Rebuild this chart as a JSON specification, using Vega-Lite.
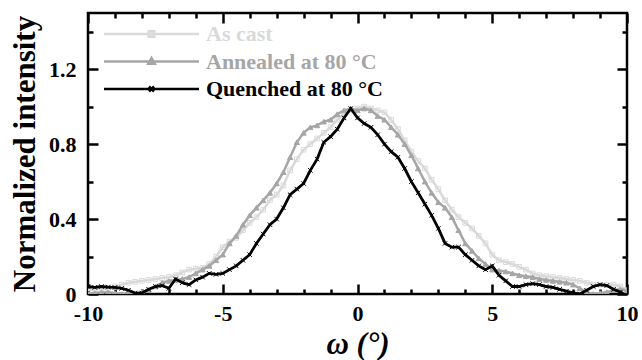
{
  "$schema": "https://vega.github.io/schema/vega-lite/v6.json",
  "width": 539,
  "height": 281,
  "autosize": {"type": "none"},
  "padding": {"left": 88, "top": 13, "right": 15, "bottom": 66},
  "background": "white",
  "config": {
    "view": {"stroke": "black", "strokeWidth": 2.5},
    "font": "Liberation Serif",
    "axis": {
      "domain": false, "grid": false, "tickColor": "black", "tickWidth": 2.5,
      "labelFont": "Liberation Serif", "labelFontWeight": "bold", "labelFontSize": 22, "labelColor": "black",
      "titleFont": "Liberation Serif", "titleFontWeight": "bold", "titleFontSize": 31, "titleColor": "black",
      "labelOverlap": false, "labelFlush": false
    }
  },
  "datasets": {
    "d": [
      {"s":"As cast","x":-10,"y":0.02},{"s":"As cast","x":-9.75,"y":0.025},{"s":"As cast","x":-9.5,"y":0.03},{"s":"As cast","x":-9.25,"y":0.03},{"s":"As cast","x":-9,"y":0.04},{"s":"As cast","x":-8.75,"y":0.05},{"s":"As cast","x":-8.5,"y":0.06},{"s":"As cast","x":-8.25,"y":0.065},{"s":"As cast","x":-8,"y":0.07},{"s":"As cast","x":-7.75,"y":0.075},{"s":"As cast","x":-7.5,"y":0.08},{"s":"As cast","x":-7.25,"y":0.085},{"s":"As cast","x":-7,"y":0.09},{"s":"As cast","x":-6.75,"y":0.1},{"s":"As cast","x":-6.5,"y":0.115},{"s":"As cast","x":-6.25,"y":0.13},{"s":"As cast","x":-6,"y":0.135},{"s":"As cast","x":-5.75,"y":0.14},{"s":"As cast","x":-5.5,"y":0.16},{"s":"As cast","x":-5.25,"y":0.2},{"s":"As cast","x":-5,"y":0.25},{"s":"As cast","x":-4.75,"y":0.28},{"s":"As cast","x":-4.5,"y":0.3},{"s":"As cast","x":-4.25,"y":0.34},{"s":"As cast","x":-4,"y":0.38},{"s":"As cast","x":-3.75,"y":0.41},{"s":"As cast","x":-3.5,"y":0.45},{"s":"As cast","x":-3.25,"y":0.5},{"s":"As cast","x":-3,"y":0.53},{"s":"As cast","x":-2.75,"y":0.58},{"s":"As cast","x":-2.5,"y":0.66},{"s":"As cast","x":-2.25,"y":0.72},{"s":"As cast","x":-2,"y":0.77},{"s":"As cast","x":-1.75,"y":0.8},{"s":"As cast","x":-1.5,"y":0.83},{"s":"As cast","x":-1.25,"y":0.86},{"s":"As cast","x":-1,"y":0.89},{"s":"As cast","x":-0.75,"y":0.93},{"s":"As cast","x":-0.5,"y":0.96},{"s":"As cast","x":-0.25,"y":0.98},{"s":"As cast","x":0,"y":0.99},{"s":"As cast","x":0.25,"y":1.0},{"s":"As cast","x":0.5,"y":0.99},{"s":"As cast","x":0.75,"y":0.98},{"s":"As cast","x":1,"y":0.97},{"s":"As cast","x":1.25,"y":0.93},{"s":"As cast","x":1.5,"y":0.88},{"s":"As cast","x":1.75,"y":0.82},{"s":"As cast","x":2,"y":0.76},{"s":"As cast","x":2.25,"y":0.71},{"s":"As cast","x":2.5,"y":0.67},{"s":"As cast","x":2.75,"y":0.61},{"s":"As cast","x":3,"y":0.56},{"s":"As cast","x":3.25,"y":0.5},{"s":"As cast","x":3.5,"y":0.45},{"s":"As cast","x":3.75,"y":0.41},{"s":"As cast","x":4,"y":0.38},{"s":"As cast","x":4.25,"y":0.35},{"s":"As cast","x":4.5,"y":0.31},{"s":"As cast","x":4.75,"y":0.27},{"s":"As cast","x":5,"y":0.21},{"s":"As cast","x":5.25,"y":0.18},{"s":"As cast","x":5.5,"y":0.17},{"s":"As cast","x":5.75,"y":0.16},{"s":"As cast","x":6,"y":0.145},{"s":"As cast","x":6.25,"y":0.13},{"s":"As cast","x":6.5,"y":0.11},{"s":"As cast","x":6.75,"y":0.1},{"s":"As cast","x":7,"y":0.095},{"s":"As cast","x":7.25,"y":0.09},{"s":"As cast","x":7.5,"y":0.085},{"s":"As cast","x":7.75,"y":0.08},{"s":"As cast","x":8,"y":0.075},{"s":"As cast","x":8.25,"y":0.07},{"s":"As cast","x":8.5,"y":0.06},{"s":"As cast","x":8.75,"y":0.05},{"s":"As cast","x":9,"y":0.05},{"s":"As cast","x":9.25,"y":0.05},{"s":"As cast","x":9.5,"y":0.05},{"s":"As cast","x":9.75,"y":0.04},{"s":"As cast","x":10,"y":0.02},
      {"s":"Annealed at 80 °C","x":-10,"y":0.0},{"s":"Annealed at 80 °C","x":-9.75,"y":0.005},{"s":"Annealed at 80 °C","x":-9.5,"y":0.01},{"s":"Annealed at 80 °C","x":-9.25,"y":0.01},{"s":"Annealed at 80 °C","x":-9,"y":0.005},{"s":"Annealed at 80 °C","x":-8.75,"y":0.0},{"s":"Annealed at 80 °C","x":-8.5,"y":0.0},{"s":"Annealed at 80 °C","x":-8.25,"y":0.0},{"s":"Annealed at 80 °C","x":-8,"y":0.01},{"s":"Annealed at 80 °C","x":-7.75,"y":0.02},{"s":"Annealed at 80 °C","x":-7.5,"y":0.04},{"s":"Annealed at 80 °C","x":-7.25,"y":0.06},{"s":"Annealed at 80 °C","x":-7,"y":0.07},{"s":"Annealed at 80 °C","x":-6.75,"y":0.075},{"s":"Annealed at 80 °C","x":-6.5,"y":0.08},{"s":"Annealed at 80 °C","x":-6.25,"y":0.09},{"s":"Annealed at 80 °C","x":-6,"y":0.11},{"s":"Annealed at 80 °C","x":-5.75,"y":0.13},{"s":"Annealed at 80 °C","x":-5.5,"y":0.15},{"s":"Annealed at 80 °C","x":-5.25,"y":0.18},{"s":"Annealed at 80 °C","x":-5,"y":0.21},{"s":"Annealed at 80 °C","x":-4.75,"y":0.27},{"s":"Annealed at 80 °C","x":-4.5,"y":0.31},{"s":"Annealed at 80 °C","x":-4.25,"y":0.37},{"s":"Annealed at 80 °C","x":-4,"y":0.42},{"s":"Annealed at 80 °C","x":-3.75,"y":0.46},{"s":"Annealed at 80 °C","x":-3.5,"y":0.5},{"s":"Annealed at 80 °C","x":-3.25,"y":0.54},{"s":"Annealed at 80 °C","x":-3,"y":0.59},{"s":"Annealed at 80 °C","x":-2.75,"y":0.65},{"s":"Annealed at 80 °C","x":-2.5,"y":0.73},{"s":"Annealed at 80 °C","x":-2.25,"y":0.81},{"s":"Annealed at 80 °C","x":-2,"y":0.86},{"s":"Annealed at 80 °C","x":-1.75,"y":0.89},{"s":"Annealed at 80 °C","x":-1.5,"y":0.9},{"s":"Annealed at 80 °C","x":-1.25,"y":0.92},{"s":"Annealed at 80 °C","x":-1,"y":0.93},{"s":"Annealed at 80 °C","x":-0.75,"y":0.96},{"s":"Annealed at 80 °C","x":-0.5,"y":0.98},{"s":"Annealed at 80 °C","x":-0.25,"y":0.99},{"s":"Annealed at 80 °C","x":0,"y":0.98},{"s":"Annealed at 80 °C","x":0.25,"y":0.99},{"s":"Annealed at 80 °C","x":0.5,"y":0.98},{"s":"Annealed at 80 °C","x":0.75,"y":0.95},{"s":"Annealed at 80 °C","x":1,"y":0.93},{"s":"Annealed at 80 °C","x":1.25,"y":0.89},{"s":"Annealed at 80 °C","x":1.5,"y":0.85},{"s":"Annealed at 80 °C","x":1.75,"y":0.8},{"s":"Annealed at 80 °C","x":2,"y":0.74},{"s":"Annealed at 80 °C","x":2.25,"y":0.67},{"s":"Annealed at 80 °C","x":2.5,"y":0.6},{"s":"Annealed at 80 °C","x":2.75,"y":0.54},{"s":"Annealed at 80 °C","x":3,"y":0.49},{"s":"Annealed at 80 °C","x":3.25,"y":0.46},{"s":"Annealed at 80 °C","x":3.5,"y":0.41},{"s":"Annealed at 80 °C","x":3.75,"y":0.34},{"s":"Annealed at 80 °C","x":4,"y":0.27},{"s":"Annealed at 80 °C","x":4.25,"y":0.23},{"s":"Annealed at 80 °C","x":4.5,"y":0.19},{"s":"Annealed at 80 °C","x":4.75,"y":0.16},{"s":"Annealed at 80 °C","x":5,"y":0.13},{"s":"Annealed at 80 °C","x":5.25,"y":0.125},{"s":"Annealed at 80 °C","x":5.5,"y":0.12},{"s":"Annealed at 80 °C","x":5.75,"y":0.11},{"s":"Annealed at 80 °C","x":6,"y":0.1},{"s":"Annealed at 80 °C","x":6.25,"y":0.095},{"s":"Annealed at 80 °C","x":6.5,"y":0.09},{"s":"Annealed at 80 °C","x":6.75,"y":0.08},{"s":"Annealed at 80 °C","x":7,"y":0.075},{"s":"Annealed at 80 °C","x":7.25,"y":0.07},{"s":"Annealed at 80 °C","x":7.5,"y":0.065},{"s":"Annealed at 80 °C","x":7.75,"y":0.06},{"s":"Annealed at 80 °C","x":8,"y":0.05},{"s":"Annealed at 80 °C","x":8.25,"y":0.03},{"s":"Annealed at 80 °C","x":8.5,"y":0.01},{"s":"Annealed at 80 °C","x":8.75,"y":0.0},{"s":"Annealed at 80 °C","x":9,"y":0.005},{"s":"Annealed at 80 °C","x":9.25,"y":0.01},{"s":"Annealed at 80 °C","x":9.5,"y":0.02},{"s":"Annealed at 80 °C","x":9.75,"y":0.025},{"s":"Annealed at 80 °C","x":10,"y":0.02},
      {"s":"Quenched at 80 °C","x":-10,"y":0.04},{"s":"Quenched at 80 °C","x":-9.75,"y":0.035},{"s":"Quenched at 80 °C","x":-9.5,"y":0.04},{"s":"Quenched at 80 °C","x":-9.25,"y":0.037},{"s":"Quenched at 80 °C","x":-9,"y":0.035},{"s":"Quenched at 80 °C","x":-8.75,"y":0.03},{"s":"Quenched at 80 °C","x":-8.5,"y":0.02},{"s":"Quenched at 80 °C","x":-8.25,"y":0.005},{"s":"Quenched at 80 °C","x":-8,"y":0.005},{"s":"Quenched at 80 °C","x":-7.75,"y":0.025},{"s":"Quenched at 80 °C","x":-7.5,"y":0.04},{"s":"Quenched at 80 °C","x":-7.25,"y":0.045},{"s":"Quenched at 80 °C","x":-7,"y":0.03},{"s":"Quenched at 80 °C","x":-6.75,"y":0.08},{"s":"Quenched at 80 °C","x":-6.5,"y":0.06},{"s":"Quenched at 80 °C","x":-6.25,"y":0.05},{"s":"Quenched at 80 °C","x":-6,"y":0.075},{"s":"Quenched at 80 °C","x":-5.75,"y":0.09},{"s":"Quenched at 80 °C","x":-5.5,"y":0.11},{"s":"Quenched at 80 °C","x":-5.25,"y":0.105},{"s":"Quenched at 80 °C","x":-5,"y":0.11},{"s":"Quenched at 80 °C","x":-4.75,"y":0.13},{"s":"Quenched at 80 °C","x":-4.5,"y":0.15},{"s":"Quenched at 80 °C","x":-4.25,"y":0.18},{"s":"Quenched at 80 °C","x":-4,"y":0.21},{"s":"Quenched at 80 °C","x":-3.75,"y":0.27},{"s":"Quenched at 80 °C","x":-3.5,"y":0.32},{"s":"Quenched at 80 °C","x":-3.25,"y":0.37},{"s":"Quenched at 80 °C","x":-3,"y":0.4},{"s":"Quenched at 80 °C","x":-2.75,"y":0.46},{"s":"Quenched at 80 °C","x":-2.5,"y":0.53},{"s":"Quenched at 80 °C","x":-2.25,"y":0.56},{"s":"Quenched at 80 °C","x":-2,"y":0.59},{"s":"Quenched at 80 °C","x":-1.75,"y":0.66},{"s":"Quenched at 80 °C","x":-1.5,"y":0.72},{"s":"Quenched at 80 °C","x":-1.25,"y":0.81},{"s":"Quenched at 80 °C","x":-1,"y":0.84},{"s":"Quenched at 80 °C","x":-0.75,"y":0.88},{"s":"Quenched at 80 °C","x":-0.5,"y":0.94},{"s":"Quenched at 80 °C","x":-0.25,"y":0.99},{"s":"Quenched at 80 °C","x":0,"y":0.94},{"s":"Quenched at 80 °C","x":0.25,"y":0.91},{"s":"Quenched at 80 °C","x":0.5,"y":0.89},{"s":"Quenched at 80 °C","x":0.75,"y":0.85},{"s":"Quenched at 80 °C","x":1,"y":0.8},{"s":"Quenched at 80 °C","x":1.25,"y":0.76},{"s":"Quenched at 80 °C","x":1.5,"y":0.73},{"s":"Quenched at 80 °C","x":1.75,"y":0.67},{"s":"Quenched at 80 °C","x":2,"y":0.6},{"s":"Quenched at 80 °C","x":2.25,"y":0.54},{"s":"Quenched at 80 °C","x":2.5,"y":0.48},{"s":"Quenched at 80 °C","x":2.75,"y":0.42},{"s":"Quenched at 80 °C","x":3,"y":0.35},{"s":"Quenched at 80 °C","x":3.25,"y":0.27},{"s":"Quenched at 80 °C","x":3.5,"y":0.25},{"s":"Quenched at 80 °C","x":3.75,"y":0.25},{"s":"Quenched at 80 °C","x":4,"y":0.21},{"s":"Quenched at 80 °C","x":4.25,"y":0.18},{"s":"Quenched at 80 °C","x":4.5,"y":0.15},{"s":"Quenched at 80 °C","x":4.75,"y":0.13},{"s":"Quenched at 80 °C","x":5,"y":0.15},{"s":"Quenched at 80 °C","x":5.25,"y":0.1},{"s":"Quenched at 80 °C","x":5.5,"y":0.07},{"s":"Quenched at 80 °C","x":5.75,"y":0.04},{"s":"Quenched at 80 °C","x":6,"y":0.04},{"s":"Quenched at 80 °C","x":6.25,"y":0.05},{"s":"Quenched at 80 °C","x":6.5,"y":0.055},{"s":"Quenched at 80 °C","x":6.75,"y":0.05},{"s":"Quenched at 80 °C","x":7,"y":0.04},{"s":"Quenched at 80 °C","x":7.25,"y":0.035},{"s":"Quenched at 80 °C","x":7.5,"y":0.025},{"s":"Quenched at 80 °C","x":7.75,"y":0.015},{"s":"Quenched at 80 °C","x":8,"y":0.005},{"s":"Quenched at 80 °C","x":8.25,"y":0.0},{"s":"Quenched at 80 °C","x":8.5,"y":0.02},{"s":"Quenched at 80 °C","x":8.75,"y":0.04},{"s":"Quenched at 80 °C","x":9,"y":0.05},{"s":"Quenched at 80 °C","x":9.25,"y":0.045},{"s":"Quenched at 80 °C","x":9.5,"y":0.025},{"s":"Quenched at 80 °C","x":9.75,"y":0.01},{"s":"Quenched at 80 °C","x":10,"y":-0.01}
    ]
  },
  "data": {"name": "d"},
  "layer": [
    {
      "transform": [{"filter": "datum.s === 'As cast'"}],
      "mark": {"type": "line", "strokeWidth": 2.5, "clip": true},
      "encoding": {
        "x": {"field": "x", "type": "quantitative", "scale": {"domain": [-10, 10], "nice": false, "zero": false},
          "axis": {"orient": "bottom", "values": [-10, -5, 0, 5, 10], "tickSize": -10, "labelPadding": 19, "labelExpr": "'' + datum.value", "title": "ω (°)", "titleFontStyle": "italic", "titlePadding": 5}},
        "y": {"field": "y", "type": "quantitative", "scale": {"domain": [0, 1.5], "nice": false, "zero": false},
          "axis": {"orient": "left", "values": [0, 0.4, 0.8, 1.2], "tickSize": -10, "labelPadding": 22, "labelExpr": "datum.value === 0 ? '0' : format(datum.value, '.1f')", "title": "Normalized intensity", "titlePadding": 7}},
        "stroke": {"field": "s", "type": "nominal",
          "scale": {"domain": ["As cast", "Annealed at 80 °C", "Quenched at 80 °C"], "range": ["#d9d9d9", "#a6a6a6", "#000000"]},
          "legend": {
            "orient": "top-left", "offset": 10, "padding": 0, "title": null,
            "symbolSize": 100, "symbolStrokeWidth": 2.5, "rowPadding": 5.5,
            "labelFont": "Liberation Serif", "labelFontWeight": "bold", "labelFontSize": 22, "labelOffset": 86, "labelLimit": 300,
            "encode": {
              "symbols": {"update": {
                "shape": {"signal": "datum.value === 'As cast' ? 'M-1,0H18M7.95,-0.55H9.05V0.55H7.95Z' : datum.value === 'Annealed at 80 °C' ? 'M-1,0H18M8.5,-0.7L9.15,0.45H7.85Z' : 'M-1,0H18M8,-0.5L9,0.5M8,0.5L9,-0.5'"},
                "fill": {"signal": "datum.value === 'Annealed at 80 °C' ? '#a6a6a6' : 'transparent'"}
              }},
              "labels": {"update": {
                "fill": {"signal": "datum.value === 'As cast' ? '#d9d9d9' : datum.value === 'Annealed at 80 °C' ? '#a6a6a6' : '#000000'"}
              }}
            }
          }
        }
      }
    },
    {
      "transform": [{"filter": "datum.s === 'As cast'"}],
      "mark": {"type": "point", "shape": "square", "size": 22, "strokeWidth": 1, "filled": false, "opacity": 1, "clip": true},
      "encoding": {
        "x": {"field": "x", "type": "quantitative", "scale": {"domain": [-10, 10], "nice": false, "zero": false},
          "axis": {"orient": "bottom", "values": [-9, -8, -7, -6, -4, -3, -2, -1, 1, 2, 3, 4, 6, 7, 8, 9], "tickSize": -5, "labels": false, "title": null}},
        "y": {"field": "y", "type": "quantitative", "scale": {"domain": [0, 1.5], "nice": false, "zero": false},
          "axis": {"orient": "left", "values": [0.2, 0.6, 1.0, 1.4], "tickSize": -5, "labels": false, "title": null}},
        "stroke": {"field": "s", "type": "nominal", "legend": null}
      }
    },
    {
      "transform": [{"filter": "datum.s === 'Annealed at 80 °C'"}],
      "mark": {"type": "line", "strokeWidth": 2.5, "clip": true},
      "encoding": {
        "x": {"field": "x", "type": "quantitative", "scale": {"domain": [-10, 10], "nice": false, "zero": false},
          "axis": {"orient": "top", "values": [-10, -5, 0, 5, 10], "tickSize": -10, "labels": false, "title": null}},
        "y": {"field": "y", "type": "quantitative", "scale": {"domain": [0, 1.5], "nice": false, "zero": false},
          "axis": {"orient": "right", "values": [0, 0.4, 0.8, 1.2], "tickSize": -10, "labels": false, "title": null}},
        "stroke": {"field": "s", "type": "nominal", "legend": null}
      }
    },
    {
      "transform": [{"filter": "datum.s === 'Annealed at 80 °C'"}],
      "mark": {"type": "point", "shape": "triangle-up", "size": 28, "strokeWidth": 1, "filled": true, "fill": "#a6a6a6", "opacity": 1, "clip": true},
      "encoding": {
        "x": {"field": "x", "type": "quantitative", "scale": {"domain": [-10, 10], "nice": false, "zero": false},
          "axis": {"orient": "top", "values": [-9, -8, -7, -6, -4, -3, -2, -1, 1, 2, 3, 4, 6, 7, 8, 9], "tickSize": -5, "labels": false, "title": null}},
        "y": {"field": "y", "type": "quantitative", "scale": {"domain": [0, 1.5], "nice": false, "zero": false},
          "axis": {"orient": "right", "values": [0.2, 0.6, 1.0, 1.4], "tickSize": -5, "labels": false, "title": null}},
        "stroke": {"field": "s", "type": "nominal", "legend": null}
      }
    },
    {
      "transform": [{"filter": "datum.s === 'Quenched at 80 °C'"}],
      "mark": {"type": "line", "strokeWidth": 2.8, "clip": true},
      "encoding": {
        "x": {"field": "x", "type": "quantitative", "scale": {"domain": [-10, 10], "nice": false, "zero": false}, "axis": null},
        "y": {"field": "y", "type": "quantitative", "scale": {"domain": [0, 1.5], "nice": false, "zero": false}, "axis": null},
        "stroke": {"field": "s", "type": "nominal", "legend": null}
      }
    },
    {
      "transform": [{"filter": "datum.s === 'Quenched at 80 °C'"}],
      "mark": {"type": "point", "shape": "M-1,-1L1,1M-1,1L1,-1", "size": 20, "strokeWidth": 1, "filled": false, "opacity": 1, "clip": true},
      "encoding": {
        "x": {"field": "x", "type": "quantitative", "scale": {"domain": [-10, 10], "nice": false, "zero": false}, "axis": null},
        "y": {"field": "y", "type": "quantitative", "scale": {"domain": [0, 1.5], "nice": false, "zero": false}, "axis": null},
        "stroke": {"field": "s", "type": "nominal", "legend": null}
      }
    }
  ],
  "resolve": {"axis": {"x": "independent", "y": "independent"}}
}
